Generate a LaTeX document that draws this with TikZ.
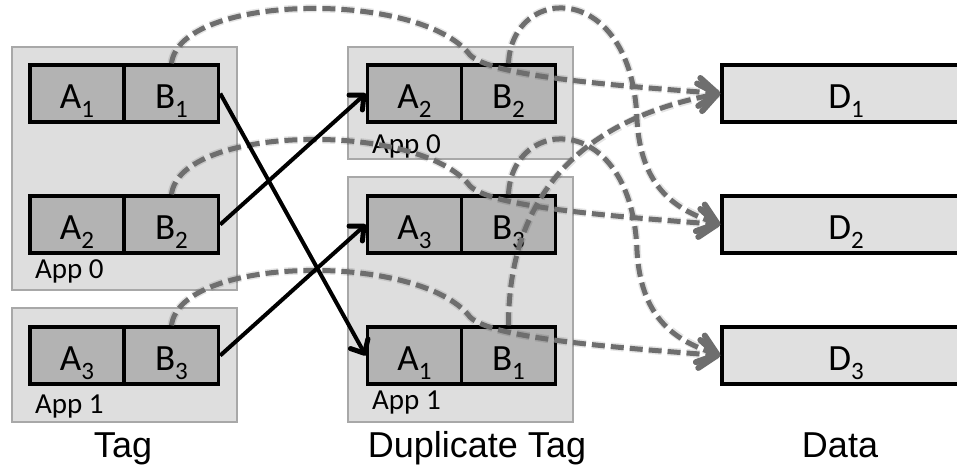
\documentclass[tikz,border=0pt]{standalone}
\usepackage{fontspec}
\setmainfont{Carlito}
\newfontfamily\titlefont{Liberation Sans}
\usetikzlibrary{arrows.meta}

\definecolor{panelfill}{HTML}{DEDEDE}
\definecolor{panelline}{HTML}{A8A8A8}
\definecolor{cellfill}{HTML}{B3B3B3}
\definecolor{datafill}{HTML}{E0E0E0}
\definecolor{linkgray}{HTML}{6E6E6E}

% lowered index digit inside a cell label
\newcommand\lowidx[1]{\raisebox{-9pt}{\fontsize{25}{25}\selectfont #1}}

\tikzset{
  panel/.style={draw=panelline, fill=panelfill, line width=2pt, inner sep=0pt},
  cell/.style={draw=black, fill=cellfill, line width=3.5pt, minimum height=57pt,
    inner sep=0pt, text height=29pt, text depth=0pt,
    font=\fontsize{37}{37}\selectfont},
  acell/.style={cell, minimum width=94pt},
  bcell/.style={cell, minimum width=94pt},
  datacell/.style={cell, fill=datafill, minimum width=248pt},
  applabel/.style={inner sep=0pt, anchor=base west, font=\fontsize{29}{29}\selectfont},
  coltitle/.style={inner sep=0pt, anchor=base, font=\titlefont\fontsize{36}{36}\selectfont},
  link/.style={draw=linkgray, line width=5pt, dash pattern=on 13pt off 6pt,
    -{Straight Barb[length=18pt, width=28pt, line width=6pt, round]}},
  linkshade/.style={draw=black, opacity=0.10, line width=8pt, dash pattern=on 13pt off 6pt},
  move/.style={draw=black, line width=4pt,
    -{Straight Barb[length=11pt, width=20pt, line width=5pt, round]}},
}

\begin{document}
\begin{tikzpicture}[x=1pt, y=-1pt]
  \useasboundingbox (0,0) rectangle (957,467);
  \clip (0,0) rectangle (957,467);

  % tag column
  \node[panel, minimum width=225pt, minimum height=243pt] (tagapp0) at (124.5,168.5) {};
  \node[panel, minimum width=225pt, minimum height=114pt] (tagapp1) at (124.5,365) {};
  \node[acell] (tA1) at (77,93.5)  {A\lowidx{1}};
  \node[bcell] (tB1) at (171.5,93.5) {B\lowidx{1}};
  \node[acell] (tA2) at (77,224.5) {A\lowidx{2}};
  \node[bcell] (tB2) at (171.5,224.5) {B\lowidx{2}};
  \node[acell] (tA3) at (77,355.5) {A\lowidx{3}};
  \node[bcell] (tB3) at (171.5,355.5) {B\lowidx{3}};
  \node[applabel] (tlab0) at (35,278) {App 0};
  \node[applabel] (tlab1) at (35,413) {App 1};
  \node[coltitle] (ttitle) at (123,457) {Tag};

  % duplicate tag column
  \node[panel, minimum width=225pt, minimum height=112pt] (dupapp0) at (460.5,103) {};
  \node[panel, minimum width=225pt, minimum height=245pt] (dupapp1) at (460.5,299.5) {};
  \node[acell] (dA2) at (414.5,93.5) {A\lowidx{2}};
  \node[bcell] (dB2) at (508.5,93.5) {B\lowidx{2}};
  \node[acell] (dA3) at (414.5,224.5) {A\lowidx{3}};
  \node[bcell] (dB3) at (508.5,224.5) {B\lowidx{3}};
  \node[acell] (dA1) at (414.5,355.5) {A\lowidx{1}};
  \node[bcell] (dB1) at (508.5,355.5) {B\lowidx{1}};
  \node[applabel] (dlab0) at (372,153) {App 0};
  \node[applabel] (dlab1) at (372,409) {App 1};
  \node[coltitle] (dtitle) at (477,457) {Duplicate Tag};

  % data column
  \node[datacell] (d1) at (846,93.5)  {D\lowidx{1}};
  \node[datacell] (d2) at (846,224.5) {D\lowidx{2}};
  \node[datacell] (d3) at (846,355.5) {D\lowidx{3}};
  \node[coltitle] (datatitle) at (840,457) {Data};

  % bend points of the pointer curves
  \coordinate (k1) at (470,55);
  \coordinate (k2) at (470,186);
  \coordinate (k3) at (470,317);
  \coordinate (j2) at (637,120);
  \coordinate (j3) at (637,251);

  % soft shade under the pointer curves
  \begin{scope}[shift={(2,3)}]
    \path[linkshade] (tB1.north) .. controls +(9,-70) and +(-50,-65) .. (k1)
      .. controls +(20,20) and +(-122,-9) .. (d1.west);
    \path[linkshade] (tB2.north) .. controls +(9,-70) and +(-50,-65) .. (k2)
      .. controls +(20,20) and +(-122,-9) .. (d2.west);
    \path[linkshade] (tB3.north) .. controls +(9,-70) and +(-50,-65) .. (k3)
      .. controls +(20,20) and +(-122,-9) .. (d3.west);
    \path[linkshade] (dB2.north) .. controls +(4,-80) and +(-5,-140) .. (j2)
      .. controls +(4,70) and +(-42,-14) .. (d2.west);
    \path[linkshade] (dB3.north) .. controls +(4,-80) and +(-5,-140) .. (j3)
      .. controls +(4,70) and +(-42,-14) .. (d3.west);
    \path[linkshade] (dB1.north) .. controls +(0,-127) and +(-142,26) .. (d1.west);
  \end{scope}

  % pointers from the original tags to the data
  \draw[link] (tB1.north) .. controls +(9,-70) and +(-50,-65) .. (k1)
    .. controls +(20,20) and +(-122,-9) .. (d1.west);
  \draw[link] (tB2.north) .. controls +(9,-70) and +(-50,-65) .. (k2)
    .. controls +(20,20) and +(-122,-9) .. (d2.west);
  \draw[link] (tB3.north) .. controls +(9,-70) and +(-50,-65) .. (k3)
    .. controls +(20,20) and +(-122,-9) .. (d3.west);

  % pointers from the duplicated tags to the data
  \draw[link] (dB2.north) .. controls +(4,-80) and +(-5,-140) .. (j2)
    .. controls +(4,70) and +(-42,-14) .. (d2.west);
  \draw[link] (dB3.north) .. controls +(4,-80) and +(-5,-140) .. (j3)
    .. controls +(4,70) and +(-42,-14) .. (d3.west);
  \draw[link] (dB1.north) .. controls +(0,-127) and +(-142,26) .. (d1.west);

  % copying of tags into the duplicate table
  \draw[move] (tB1.east) -- (dA1.west);
  \draw[move] (tB2.east) -- (dA2.west);
  \draw[move] (tB3.east) -- (dA3.west);
\end{tikzpicture}
\end{document}
